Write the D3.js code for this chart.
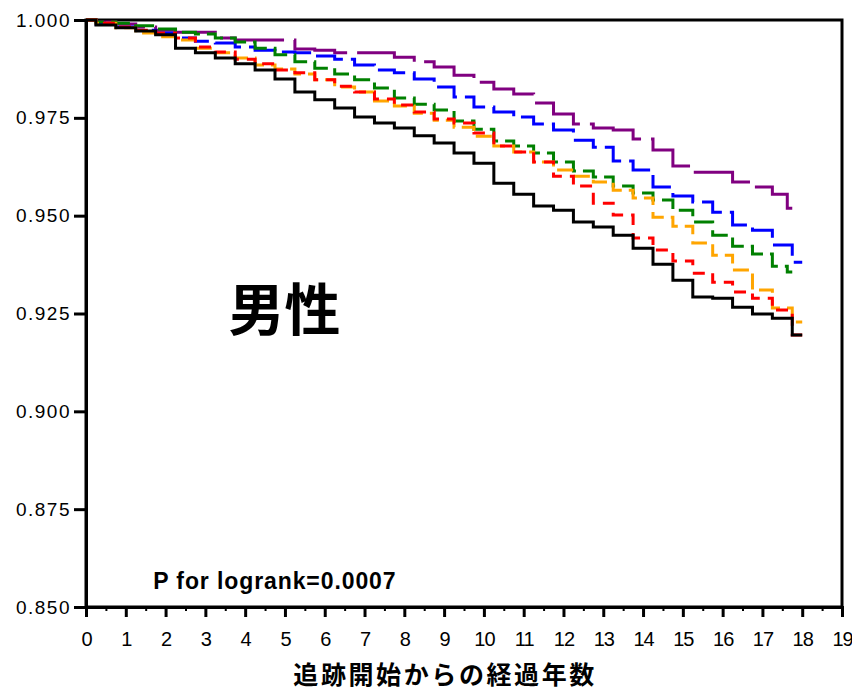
<!DOCTYPE html>
<html>
<head>
<meta charset="utf-8">
<script src="https://cdn.jsdelivr.net/npm/d3@7"></script>
<style>
  body { margin: 0; background: #fff; }
  svg text { font-family: "Liberation Sans", Arial, sans-serif; }
</style>
</head>
<body>
<div id="chart"></div>
<script>
// follow-up years (shared grid)
var times = [0, 0.5, 1, 1.5, 2, 2.5, 3, 3.5, 4, 4.5, 5, 5.5, 6, 6.5, 7, 7.5, 8, 8.5, 9, 9.5,
  10, 10.5, 11, 11.5, 12, 12.5, 13, 13.5, 14, 14.5, 15, 15.5, 16, 16.5, 17, 17.5, 18];

var blackVals = [1.0000, 0.9987, 0.9980, 0.9972, 0.9962, 0.9928, 0.9916, 0.9903, 0.9888, 0.9872,
  0.9849, 0.9816, 0.9796, 0.9775, 0.9752, 0.9737, 0.9724, 0.9704, 0.9686, 0.9660,
  0.9634, 0.9583, 0.9555, 0.9525, 0.9514, 0.9484, 0.9471, 0.9450, 0.9417, 0.9376,
  0.9335, 0.9292, 0.9289, 0.9266, 0.9249, 0.9238, 0.9195];
var redVals = [1.0000, 0.9992, 0.9982, 0.9974, 0.9967, 0.9954, 0.9931, 0.9918, 0.9900, 0.9888,
  0.9872, 0.9865, 0.9847, 0.9831, 0.9816, 0.9798, 0.9783, 0.9765, 0.9747, 0.9737,
  0.9711, 0.9678, 0.9663, 0.9637, 0.9601, 0.9576, 0.9532, 0.9502, 0.9443, 0.9412,
  0.9384, 0.9353, 0.9330, 0.9305, 0.9289, 0.9259, 0.9195];
var orangeVals = [1.0000, 0.9992, 0.9980, 0.9967, 0.9957, 0.9949, 0.9928, 0.9916, 0.9903, 0.9885,
  0.9875, 0.9862, 0.9847, 0.9829, 0.9816, 0.9793, 0.9780, 0.9762, 0.9744, 0.9726,
  0.9703, 0.9678, 0.9663, 0.9637, 0.9617, 0.9601, 0.9586, 0.9565, 0.9545, 0.9496,
  0.9473, 0.9430, 0.9399, 0.9361, 0.9310, 0.9264, 0.9228];
var greenVals = [1.0000, 0.9995, 0.9992, 0.9985, 0.9977, 0.9969, 0.9964, 0.9954, 0.9944, 0.9928,
  0.9911, 0.9893, 0.9877, 0.9862, 0.9847, 0.9826, 0.9801, 0.9785, 0.9770, 0.9742,
  0.9721, 0.9691, 0.9678, 0.9660, 0.9637, 0.9614, 0.9599, 0.9576, 0.9558, 0.9540,
  0.9514, 0.9484, 0.9450, 0.9422, 0.9402, 0.9371, 0.9356];
var blueVals = [1.0000, 0.9990, 0.9982, 0.9974, 0.9967, 0.9954, 0.9946, 0.9941, 0.9931, 0.9923,
  0.9918, 0.9916, 0.9908, 0.9900, 0.9885, 0.9872, 0.9865, 0.9849, 0.9829, 0.9803,
  0.9778, 0.9765, 0.9752, 0.9734, 0.9719, 0.9693, 0.9675, 0.9640, 0.9617, 0.9573,
  0.9550, 0.9535, 0.9509, 0.9476, 0.9463, 0.9425, 0.9381];
var purpleVals = [1.0000, 0.9995, 0.9990, 0.9982, 0.9974, 0.9969, 0.9969, 0.9954, 0.9949, 0.9949,
  0.9949, 0.9926, 0.9923, 0.9916, 0.9916, 0.9916, 0.9905, 0.9893, 0.9880, 0.9859,
  0.9841, 0.9824, 0.9811, 0.9788, 0.9760, 0.9734, 0.9724, 0.9719, 0.9696, 0.9668,
  0.9627, 0.9611, 0.9611, 0.9586, 0.9573, 0.9555, 0.9519];

// last follow-up time per curve (green and purple stop a bit before 18)
var lastTimes = [18, 18, 18, 17.75, 18, 17.75];
var seriesColors = ["#000000", "#ff0000", "#ffa500", "#008000", "#0000ff", "#800080"];
var seriesDashes = [null, "12,8", "16,7", "20,7", "30,8", "66,10"];

var yTicks = [0.850, 0.875, 0.900, 0.925, 0.950, 0.975, 1.000];
var xTicks = d3.range(0, 20);

var margin = {top: 20, right: 10, bottom: 85, left: 86},
  width = 852 - margin.left - margin.right,
  height = 692 - margin.top - margin.bottom;

var svg = d3.select("#chart")
  .append("svg")
    .attr("width", 852)
    .attr("height", 692)
  .append("g")
    .attr("transform", "translate(" + margin.left + "," + margin.top + ")");

var x = d3.scaleLinear().domain([0, 19]).range([0, 756]);
var y = d3.scaleLinear().domain([0.85, 1.0]).range([height, 0]);

// frame
svg.append("rect")
  .attr("x", 0).attr("y", 0)
  .attr("width", x(19)).attr("height", height)
  .attr("fill", "none")
  .attr("stroke", "#000")
  .attr("stroke-width", 3);

// curves
var allVals = [blackVals, redVals, orangeVals, greenVals, blueVals, purpleVals];
var line = d3.line()
  .x(function(d) { return x(d[0]); })
  .y(function(d) { return y(d[1]); })
  .curve(d3.curveStep);

// draw purple first so black stays on top
for (var i = allVals.length - 1; i >= 0; i--) {
  var pts = times.map(function(t, j) { return [t, allVals[i][j]]; });
  pts[pts.length - 1][0] = lastTimes[i];
  svg.append("path")
    .datum(pts)
    .attr("d", line)
    .attr("fill", "none")
    .attr("stroke", seriesColors[i])
    .attr("stroke-width", 3)
    .attr("stroke-dasharray", seriesDashes[i]);
}

// y axis
var yAxis = svg.append("g")
  .call(d3.axisLeft(y).tickValues(yTicks).tickFormat(d3.format(".3f")).tickSize(12).tickPadding(3));
yAxis.select(".domain").attr("stroke-width", 3);
yAxis.selectAll(".tick line").attr("stroke-width", 3);
yAxis.selectAll("text")
  .attr("font-size", 19)
  .attr("letter-spacing", "1.5px")
  .attr("fill", "#000");

// x axis with minor ticks at half-years
var xMinor = svg.append("g")
  .attr("transform", "translate(0," + height + ")")
  .call(d3.axisBottom(x).tickValues(d3.range(0.5, 19, 1)).tickSize(4).tickFormat(""));
xMinor.select(".domain").remove();
xMinor.selectAll(".tick line").attr("stroke-width", 2);

var xAxis = svg.append("g")
  .attr("transform", "translate(0," + height + ")")
  .call(d3.axisBottom(x).tickValues(xTicks).tickSize(10).tickPadding(15));
xAxis.select(".domain").attr("stroke-width", 3);
xAxis.selectAll(".tick line").attr("stroke-width", 3);
xAxis.selectAll("text")
  .attr("font-size", 20)
  .attr("letter-spacing", "-1px")
  .attr("fill", "#000");

// labels
svg.append("text")
  .attr("x", x(9.0) + 1)
  .attr("y", height + 77)
  .attr("text-anchor", "middle")
  .attr("letter-spacing", "2.6px")
  .style("font-family", "'Noto Sans CJK JP', sans-serif")
  .style("font-size", "25px")
  .style("font-weight", "bold")
  .text("追跡開始からの経過年数");

svg.append("text")
  .attr("x", 198.5)
  .attr("y", 310)
  .attr("text-anchor", "middle")
  .style("font-family", "'Noto Sans CJK JP', sans-serif")
  .style("font-size", "56px")
  .style("font-weight", "bold")
  .text("男性");

svg.append("text")
  .attr("x", x(1.69))
  .attr("y", height - 18)
  .attr("letter-spacing", "0.9px")
  .style("font-size", "23px")
  .style("font-weight", "bold")
  .text("P for logrank=0.0007");
</script>
</body>
</html>
